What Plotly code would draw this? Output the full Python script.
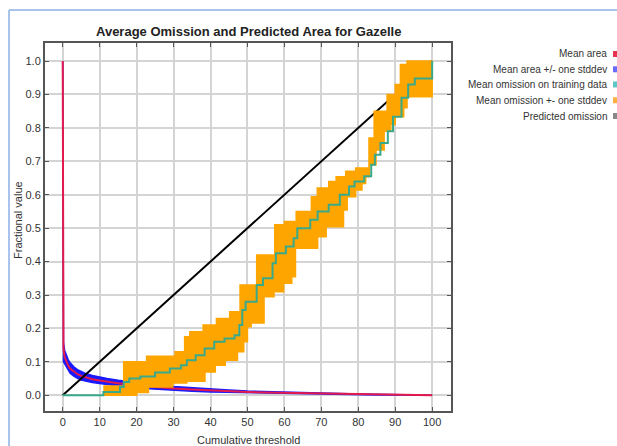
import plotly.graph_objects as go

# ---- data ----
area_x = [0, 0.2, 0.5, 1, 1.5, 2, 3, 4, 5, 6, 8, 10, 12, 15, 20, 25, 30, 35, 40, 45,
          50, 55, 60, 65, 70, 75, 80, 85, 90, 95, 100]
area_mean = [1.0, 0.14, 0.115, 0.1, 0.088, 0.08, 0.07, 0.063, 0.058, 0.054, 0.048, 0.044,
             0.040, 0.036, 0.029, 0.024, 0.020, 0.017, 0.014, 0.012, 0.010, 0.008, 0.007,
             0.006, 0.005, 0.004, 0.003, 0.002, 0.0015, 0.001, 0.0]
area_upper = [1.0, 0.158, 0.135, 0.118, 0.106, 0.097, 0.085, 0.077, 0.071, 0.066, 0.059, 0.054,
              0.050, 0.045, 0.037, 0.031, 0.026, 0.022, 0.019, 0.016, 0.013, 0.011, 0.009,
              0.008, 0.007, 0.005, 0.004, 0.003, 0.002, 0.0015, 0.0]
area_lower = [1.0, 0.10, 0.095, 0.085, 0.074, 0.066, 0.057, 0.051, 0.046, 0.043, 0.038, 0.035,
              0.031, 0.028, 0.022, 0.018, 0.015, 0.012, 0.010, 0.008, 0.007, 0.005, 0.004,
              0.004, 0.003, 0.002, 0.002, 0.001, 0.001, 0.0005, 0.0]

om_x = [0, 11, 15.5, 16.5, 18, 21, 25, 29, 32, 33.6, 36, 38.4, 41, 43.8, 46.5, 47.8, 48.6,
        49.5, 52.5, 54.2, 56.8, 57.7, 60.4, 62.5, 63.5, 67, 69, 72, 75, 77.5, 79, 81.6,
        83.5, 84.5, 86, 88, 89.4, 91.7, 93.5, 95.3, 100]
om_mean = [0, 0.01, 0.025, 0.04, 0.05, 0.056, 0.068, 0.08, 0.09, 0.105, 0.12, 0.14, 0.16,
           0.17, 0.18, 0.21, 0.255, 0.28, 0.33, 0.35, 0.395, 0.425, 0.445, 0.47, 0.5, 0.525,
           0.55, 0.57, 0.6, 0.625, 0.64, 0.655, 0.69, 0.72, 0.755, 0.79, 0.833, 0.89, 0.93,
           0.948, 1.0]

up_x = [11, 16.5, 22.7, 30.4, 33, 34.4, 38, 41.6, 45.2, 48, 52.5, 57.4, 60, 63.2, 67.3,
        68.9, 72, 74, 76.6, 79.3, 82.9, 84.3, 86, 87.8, 90, 91.4, 93.2, 100]
up_y = [0.028, 0.10, 0.117, 0.13, 0.175, 0.19, 0.21, 0.23, 0.25, 0.33, 0.42, 0.51, 0.52,
        0.55, 0.594, 0.62, 0.64, 0.654, 0.67, 0.68, 0.77, 0.85, 0.85, 0.90, 0.93, 0.99,
        1.0, 1.0]

lo_x = [11, 20, 23.2, 29.8, 33.6, 38.5, 41.3, 44, 47.3, 49, 50, 51, 54.5, 57.2, 59.8, 62,
        63, 69, 71.3, 76, 77, 79.3, 81, 82, 83, 84.8, 87, 88.8, 90, 92.3, 93.2, 100]
lo_y = [0, 0.008, 0.025, 0.037, 0.042, 0.07, 0.09, 0.105, 0.13, 0.16, 0.205, 0.216, 0.295,
        0.31, 0.335, 0.355, 0.44, 0.474, 0.504, 0.554, 0.594, 0.614, 0.634, 0.654, 0.69,
        0.734, 0.79, 0.81, 0.833, 0.86, 0.893, 0.893]

pred_x = [0, 100]
pred_y = [0, 1]

legend_labels = ["Mean area", "Mean area +/- one stddev", "Mean omission on training data",
                 "Mean omission +- one stddev", "Predicted omission"]
legend_colors = ["#e8304f", "#6a6aff", "#5cc8c8", "#ffb040", "#888888"]

x_ticks = list(range(0, 101, 10))
y_ticks = [i / 10 for i in range(0, 11)]

# ---- figure ----
RED = "#e31a4b"
BLUE = "#1a1aff"
TEAL = "#3aa98a"
ORANGE = "#ffa500"


def step_path(xs, ys):
    """Expand step points (hv) into explicit vertices."""
    px_, py_ = [], []
    for i in range(len(xs)):
        if i > 0:
            px_.append(xs[i])
            py_.append(ys[i - 1])
        px_.append(xs[i])
        py_.append(ys[i])
    return px_, py_


ux, uy = step_path(up_x, up_y)
lx, ly = step_path(lo_x, lo_y)
band_x = ux + lx[::-1]
band_y = uy + ly[::-1]

fig = go.Figure()

# mean area +/- stddev (blue band)
fig.add_trace(go.Scatter(x=area_x + area_x[::-1], y=area_upper + area_lower[::-1],
                         mode="lines", fill="toself", fillcolor=BLUE,
                         line=dict(color=BLUE, width=1.5), hoverinfo="skip"))
# mean area
fig.add_trace(go.Scatter(x=area_x, y=area_mean, mode="lines",
                         line=dict(color=RED, width=2)))
# predicted omission
fig.add_trace(go.Scatter(x=pred_x, y=pred_y, mode="lines",
                         line=dict(color="black", width=2)))
# omission +/- stddev (orange band)
fig.add_trace(go.Scatter(x=band_x, y=band_y, mode="lines", fill="toself",
                         fillcolor=ORANGE, line=dict(color=ORANGE, width=1.5), hoverinfo="skip"))
# mean omission
fig.add_trace(go.Scatter(x=om_x, y=om_mean, mode="lines", line_shape="hv",
                         line=dict(color=TEAL, width=2)))

L, R, T, B = 45, 451, 43, 411
W, H = 617, 446


def px(x):
    return (x - L) / (R - L)


def py(y):
    return (B - y) / (B - T)


FONT = "Liberation Sans"
annotations = []
shapes = []
leg_y = [54, 69.3, 84.5, 100.3, 116]
for lab, col, yy in zip(legend_labels, legend_colors, leg_y):
    annotations.append(dict(text=lab, xref="paper", yref="paper", x=px(609), y=py(yy),
                            xanchor="right", yanchor="middle", showarrow=False,
                            font=dict(family=FONT, size=10, color="#333333")))
    shapes.append(dict(type="rect", xref="paper", yref="paper",
                       x0=px(613), x1=px(618), y0=py(yy + 3), y1=py(yy - 3),
                       fillcolor=col, line=dict(width=0)))

# window border (light blue)
shapes.append(dict(type="line", xref="paper", yref="paper", x0=px(9), x1=px(620),
                   y0=py(10), y1=py(10), line=dict(color="#a8c4ec", width=2)))
shapes.append(dict(type="line", xref="paper", yref="paper", x0=px(9), x1=px(9),
                   y0=py(10), y1=py(450), line=dict(color="#a8c4ec", width=2)))

annotations.append(dict(text="<b>Average Omission and Predicted Area for Gazelle</b>",
                        xref="paper", yref="paper", x=0.5, y=py(32), xanchor="center",
                        yanchor="middle", showarrow=False,
                        font=dict(family=FONT, size=13, color="#222222")))
annotations.append(dict(text="Cumulative threshold", xref="paper", yref="paper", x=0.5,
                        y=py(440), xanchor="center", yanchor="middle", showarrow=False,
                        font=dict(family=FONT, size=11, color="#333333")))
annotations.append(dict(text="Fractional value", xref="paper", yref="paper", x=px(18),
                        y=py(220), xanchor="center", yanchor="middle", showarrow=False,
                        textangle=-90,
                        font=dict(family=FONT, size=11, color="#333333")))

axis_common = dict(showgrid=True, gridcolor="#d4d4d4", gridwidth=1.5, zeroline=False,
                   showline=True, linecolor="#555555", linewidth=2, mirror="ticks",
                   ticks="inside", ticklen=4, tickcolor="#555555",
                   tickfont=dict(family=FONT, size=11, color="#333333"))

fig.update_layout(
    width=W, height=H,
    margin=dict(l=L, r=W - R, t=T, b=H - B, pad=0),
    paper_bgcolor="white", plot_bgcolor="white",
    showlegend=False,
    annotations=annotations,
    shapes=shapes,
    xaxis=dict(range=[-4.8, 105.1], tickvals=x_ticks, ticktext=[str(v) for v in x_ticks],
               **axis_common),
    yaxis=dict(range=[-0.047, 1.054], tickvals=y_ticks,
               ticktext=[f"{v:.1f}" for v in y_ticks], **axis_common),
)

fig.write_html("out.html")
